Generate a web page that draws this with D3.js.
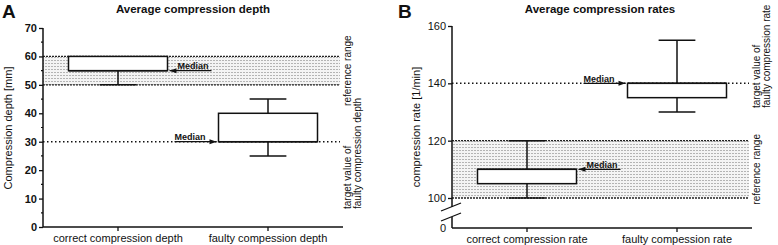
<!DOCTYPE html>
<html>
<head>
<meta charset="utf-8">
<script src="https://cdn.jsdelivr.net/npm/d3@7"></script>
<style>
  body { margin: 0; background: #fff; }
  svg { display: block; font-family: "Liberation Sans", Arial, sans-serif; }
</style>
</head>
<body>
<div id="chart"></div>
<script>
// Panel A: compression depth (mm)
const depthCats = ["correct compression depth", "faulty compession depth"];
const depthMin = [50, 25];
const depthQ1 = [55, 30];
const depthMedian = [55, 30];
const depthQ3 = [60, 40];
const depthMax = [60, 45];
const depthRefRange = [50, 60];
const depthTarget = 30;
const depthTicks = [0, 10, 20, 30, 40, 50, 60, 70];
const depthMinorTicks = [5, 15, 25, 35, 45, 55, 65];

// Panel B: compression rate (1/min), broken axis
const rateCats = ["correct compression rate", "faulty compession rate"];
const rateMin = [100, 130];
const rateQ1 = [105, 135];
const rateMedian = [110, 140];
const rateQ3 = [110, 140];
const rateMax = [120, 155];
const rateRefRange = [100, 120];
const rateTarget = 140;
const rateTicks = [100, 120, 140, 160];
const rateBreakTick = 0;

const W = 778, H = 245;
const svg = d3.select("#chart").append("svg")
  .attr("width", W).attr("height", H);

// dotted fill for reference range
const pat = svg.append("defs").append("pattern")
  .attr("id", "dots").attr("patternUnits", "userSpaceOnUse")
  .attr("width", 3).attr("height", 3);
pat.append("rect").attr("width", 3).attr("height", 3).attr("fill", "#f4f4f4");
pat.append("rect").attr("width", 2).attr("height", 1).attr("fill", "#b4b4b4");

function drawPanel(o) {
  const g = svg.append("g");
  const x = d3.scaleBand().domain(o.cats).range(o.xRange).padding(0);
  const y = d3.scaleLinear().domain(o.yDomain).range(o.yRange);
  const [x0, x1] = o.xRange;
  const lineEnd = x1 - 3;
  const boxW = x.bandwidth() * 0.66;
  const capW = x.bandwidth() * 0.245;
  const cx = d => x(d) + x.bandwidth() / 2;

  // reference range
  g.append("rect")
    .attr("x", x0).attr("width", lineEnd - x0)
    .attr("y", y(o.ref[1])).attr("height", y(o.ref[0]) - y(o.ref[1]))
    .attr("fill", "url(#dots)");
  o.ref.forEach(v => {
    g.append("line")
      .attr("x1", x0).attr("x2", lineEnd).attr("y1", y(v)).attr("y2", y(v))
      .attr("stroke", "#222").attr("stroke-width", 1.3).attr("stroke-dasharray", "2,1");
  });

  // target line
  g.append("line")
    .attr("x1", x0).attr("x2", lineEnd).attr("y1", y(o.target)).attr("y2", y(o.target))
    .attr("stroke", "#111").attr("stroke-width", 1.5).attr("stroke-dasharray", "1.5,2.5");

  // whiskers
  const rows = o.cats.map((c, i) => ({
    c, min: o.min[i], q1: o.q1[i], med: o.med[i], q3: o.q3[i], max: o.max[i]
  }));
  rows.forEach(d => {
    const c = cx(d.c);
    [[d.q3, d.max], [d.q1, d.min]].forEach(([a, b]) => {
      if (a === b) return;
      g.append("line").attr("x1", c).attr("x2", c).attr("y1", y(a)).attr("y2", y(b))
        .attr("stroke", "#111").attr("stroke-width", 1.5);
      g.append("line").attr("x1", c - capW / 2).attr("x2", c + capW / 2)
        .attr("y1", y(b)).attr("y2", y(b))
        .attr("stroke", "#111").attr("stroke-width", 1.5);
    });
    g.append("rect")
      .attr("x", c - boxW / 2).attr("width", boxW)
      .attr("y", y(d.q3)).attr("height", y(d.q1) - y(d.q3))
      .attr("fill", "#fff").attr("stroke", "#111").attr("stroke-width", 1.5);
    g.append("line").attr("x1", c - boxW / 2).attr("x2", c + boxW / 2)
      .attr("y1", y(d.med)).attr("y2", y(d.med))
      .attr("stroke", "#111").attr("stroke-width", 1.5);
  });

  // median annotations
  o.medianSide.forEach((side, i) => {
    const d = rows[i];
    const yy = y(d.med);
    const len = 42;
    let tip, tail, tx;
    if (side === "right") {
      tip = cx(d.c) + boxW / 2 + 2; tail = tip + len; tx = tip + 8;
    } else {
      tip = cx(d.c) - boxW / 2 - 2; tail = tip - len; tx = tail;
    }
    g.append("line").attr("x1", tail).attr("x2", tip).attr("y1", yy).attr("y2", yy)
      .attr("stroke", "#111").attr("stroke-width", 1.3);
    const dir = side === "right" ? 1 : -1;
    g.append("path")
      .attr("d", `M${tip},${yy} L${tip + dir * 7},${yy - 2.5} L${tip + dir * 7},${yy + 2.5} Z`)
      .attr("fill", "#111");
    g.append("text").attr("x", tx).attr("y", yy - 1.5)
      .attr("font-size", 9).attr("font-weight", "bold").attr("fill", "#111")
      .text("Median");
  });

  // y axis
  const yAxis = d3.axisLeft(y).tickValues(o.ticks).tickSize(4).tickPadding(2).tickFormat(d3.format("d"));
  const ya = g.append("g").attr("transform", `translate(${x0},0)`).call(yAxis);
  ya.select(".domain").remove();
  ya.selectAll("line").attr("stroke", "#111").attr("stroke-width", 1.3);
  ya.selectAll("text").attr("font-size", 11).attr("font-weight", o.tickWeight)
    .attr("font-family", "Liberation Sans, Arial, sans-serif").attr("fill", "#111");
  if (o.minor) {
    g.selectAll(".minor").data(o.minor).join("line")
      .attr("x1", x0 - 2).attr("x2", x0).attr("y1", d => y(d)).attr("y2", d => y(d))
      .attr("stroke", "#111").attr("stroke-width", 1.2);
  }

  const yBottom = o.zeroY;
  if (o.breakAt) {
    g.append("line").attr("x1", x0).attr("x2", x0).attr("y1", o.yRange[1]).attr("y2", o.breakAt[0])
      .attr("stroke", "#111").attr("stroke-width", 1.5);
    g.append("line").attr("x1", x0).attr("x2", x0).attr("y1", o.breakAt[1]).attr("y2", yBottom)
      .attr("stroke", "#111").attr("stroke-width", 1.5);
    o.breakAt.forEach(b => {
      g.append("line").attr("x1", x0 - 11).attr("x2", x0 + 9)
        .attr("y1", b + 4).attr("y2", b - 4)
        .attr("stroke", "#111").attr("stroke-width", 1.3);
    });
    g.append("text").attr("x", x0 - 6).attr("y", yBottom).attr("dy", "0.35em")
      .attr("text-anchor", "end").attr("font-size", 11).attr("fill", "#111")
      .text(o.breakTick);
  } else {
    g.append("line").attr("x1", x0).attr("x2", x0).attr("y1", o.yRange[1]).attr("y2", yBottom)
      .attr("stroke", "#111").attr("stroke-width", 1.5);
  }

  // x axis
  g.append("line").attr("x1", x0).attr("x2", x1).attr("y1", yBottom).attr("y2", yBottom)
    .attr("stroke", "#111").attr("stroke-width", 1.5);
  o.cats.forEach(c => {
    g.append("line").attr("x1", cx(c)).attr("x2", cx(c)).attr("y1", yBottom).attr("y2", yBottom + 4)
      .attr("stroke", "#111").attr("stroke-width", 1.3);
    g.append("text").attr("x", cx(c)).attr("y", yBottom + 15)
      .attr("text-anchor", "middle").attr("font-size", 11).attr("fill", "#111").text(c);
  });

  // y label
  g.append("text")
    .attr("transform", `translate(${o.yLabelX},${o.yLabelY}) rotate(-90)`)
    .attr("text-anchor", "middle").attr("font-size", 11).attr("fill", "#111")
    .text(o.yLabel);

  // title and letter
  g.append("text").attr("x", o.titleX).attr("y", 13)
    .attr("text-anchor", "middle").attr("font-size", 11.5).attr("font-weight", "bold").attr("fill", "#111")
    .text(o.title);
  g.append("text").attr("x", o.letterX).attr("y", 18)
    .attr("font-size", 19).attr("font-weight", "bold").attr("fill", "#111")
    .text(o.letter);

  // right side labels
  const sideX = x1 + 8;
  g.append("text")
    .attr("transform", `translate(${sideX},${y((o.ref[0] + o.ref[1]) / 2)}) rotate(-90)`)
    .attr("text-anchor", "middle").attr("font-size", 10).attr("fill", "#111")
    .text("reference range");
  const tY = o.targetLabelY;
  g.append("text")
    .attr("transform", `translate(${sideX},${tY}) rotate(-90)`)
    .attr("text-anchor", "start").attr("font-size", 10).attr("fill", "#111")
    .text("target value of");
  g.append("text")
    .attr("transform", `translate(${sideX + 10},${tY}) rotate(-90)`)
    .attr("text-anchor", "start").attr("font-size", 10).attr("fill", "#111")
    .text(o.targetLabel);
}

drawPanel({
  cats: depthCats, min: depthMin, q1: depthQ1, med: depthMedian, q3: depthQ3, max: depthMax,
  ref: depthRefRange, target: depthTarget, ticks: depthTicks, minor: depthMinorTicks,
  xRange: [43, 343], yDomain: [0, 70], yRange: [227, 28], zeroY: 227,
  tickWeight: "bold", medianSide: ["right", "left"],
  yLabel: "Compression depth [mm]", yLabelX: 12, yLabelY: 128,
  title: "Average compression depth", titleX: 193, letter: "A", letterX: 2,
  targetLabel: "faulty compression depth", targetLabelY: 209
});

drawPanel({
  cats: rateCats, min: rateMin, q1: rateQ1, med: rateMedian, q3: rateQ3, max: rateMax,
  ref: rateRefRange, target: rateTarget, ticks: rateTicks, minor: null,
  xRange: [452, 752], yDomain: [100, 160], yRange: [198, 26], zeroY: 228,
  breakAt: [207, 217], breakTick: rateBreakTick,
  tickWeight: "normal", medianSide: ["right", "left"],
  yLabel: "compression rate [1/min]", yLabelX: 420, yLabelY: 127,
  title: "Average compression rates", titleX: 600, letter: "B", letterX: 398,
  targetLabel: "faulty compression rate", targetLabelY: 108
});
</script>
</body>
</html>
